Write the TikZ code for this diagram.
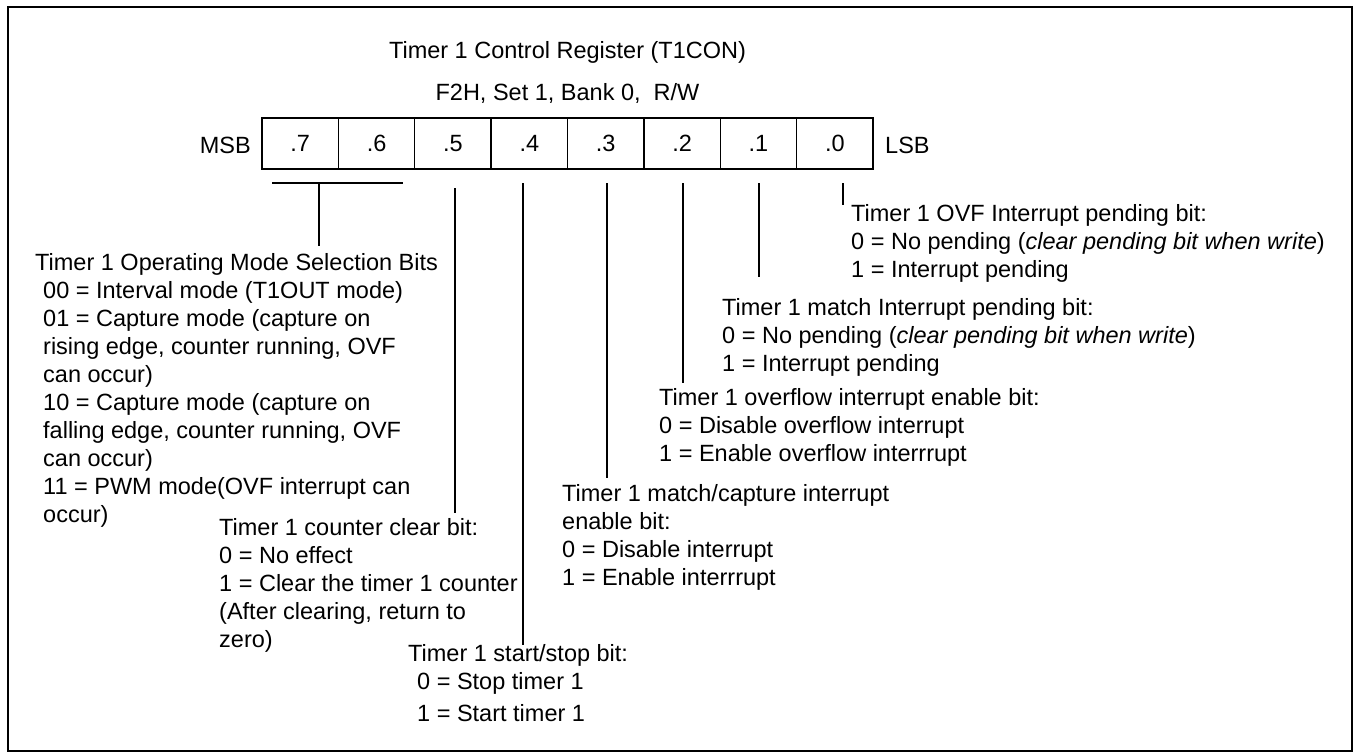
\documentclass[tikz,border=0pt]{standalone}
\usepackage{fontspec}
\setmainfont{Liberation Sans}
\begin{document}
\begin{tikzpicture}[x=1pt,y=-1pt,
  txt/.style={inner sep=0pt, anchor=north west, align=left, font=\fontsize{23.5}{28}\selectfont},
  hdr/.style={inner sep=0pt, font=\fontsize{23.5}{28}\selectfont},
  conn/.style={line width=1.4pt},
  cell/.style={draw, line width=1.4pt, minimum width=76.4pt, minimum height=51pt, inner sep=0pt, font=\fontsize{23.5}{28}\selectfont}]
\useasboundingbox (0,0) rectangle (1355,755);
\draw[line width=2pt] (8,7) rectangle (1352,751);

% header
\node[hdr] (title) at (567.5,52) {Timer 1 Control Register (T1CON)};
\node[hdr] (addr) at (567.5,93) {F2H, Set 1, Bank 0,\ \ R/W};

% register cells
\foreach \b [count=\i from 0] in {7,6,5,4,3,2,1,0} {
  \node[cell] (c\b) at (262+76.375*\i+38.19,143.5) {.\b};
}
\node[hdr, anchor=east] (msb) at (251,145) {MSB};
\node[hdr, anchor=west] (lsb) at (885,145) {LSB};

% description texts
\node[txt] (mode) at (35,253.5) {Timer 1 Operating Mode Selection Bits\\
\hspace*{8pt}00 = Interval mode (T1OUT mode)\\
\hspace*{8pt}01 = Capture mode (capture on\\
\hspace*{8pt}rising edge, counter running, OVF\\
\hspace*{8pt}can occur)\\
\hspace*{8pt}10 = Capture mode (capture on\\
\hspace*{8pt}falling edge, counter running, OVF\\
\hspace*{8pt}can occur)\\
\hspace*{8pt}11 = PWM mode(OVF interrupt can\\
\hspace*{8pt}occur)};

\node[txt] (clr) at (219,518.5) {Timer 1 counter clear bit:\\
0 = No effect\\
1 = Clear the timer 1 counter\\
(After clearing, return to\\
zero)};

\node[txt] (run) at (408,644.5) {Timer 1 start/stop bit:\\
\hspace*{9pt}0 = Stop timer 1\\[4pt]
\hspace*{9pt}1 = Start timer 1};

\node[txt] (mcie) at (562,484.5) {Timer 1 match/capture interrupt\\
enable bit:\\
0 = Disable interrupt\\
1 = Enable interrrupt};

\node[txt] (ovie) at (659,388.5) {Timer 1 overflow interrupt enable bit:\\
0 = Disable overflow interrupt\\
1 = Enable overflow interrrupt};

\node[txt] (mip) at (722,298.5) {Timer 1 match Interrupt pending bit:\\
0 = No pending (\textit{clear pending bit when write})\\
1 = Interrupt pending};

\node[txt] (oip) at (851,204.5) {Timer 1 OVF Interrupt pending bit:\\
0 = No pending (\textit{clear pending bit when write})\\
1 = Interrupt pending};

% bracket for bits 7-6
\coordinate (brL) at (272,183);
\coordinate (brR) at (403,183);
\coordinate (brM) at (319,183);
\draw[conn] (brL) -- (brR);
\draw[conn] (brM) -- ([yshift=8pt]brM |- mode.north);

% bit connectors
\coordinate (s5) at (455,188);
\coordinate (s4) at (523,183);
\coordinate (s3) at (607,183);
\coordinate (s2) at (683,183);
\coordinate (s1) at (759,183);
\coordinate (s0) at (843,183);
\draw[conn] (s5) -- ([yshift=6pt]s5 |- clr.north);
\draw[conn] (s4) -- (s4 |- run.north);
\draw[conn] (s3) -- ([yshift=7pt]s3 |- mcie.north);
\draw[conn] (s2) -- ([yshift=6pt]s2 |- ovie.north);
\draw[conn] (s1) -- ([yshift=22pt]s1 |- mip.north);
\draw[conn] (s0) -- (s0 |- oip.north);
\end{tikzpicture}
\end{document}
